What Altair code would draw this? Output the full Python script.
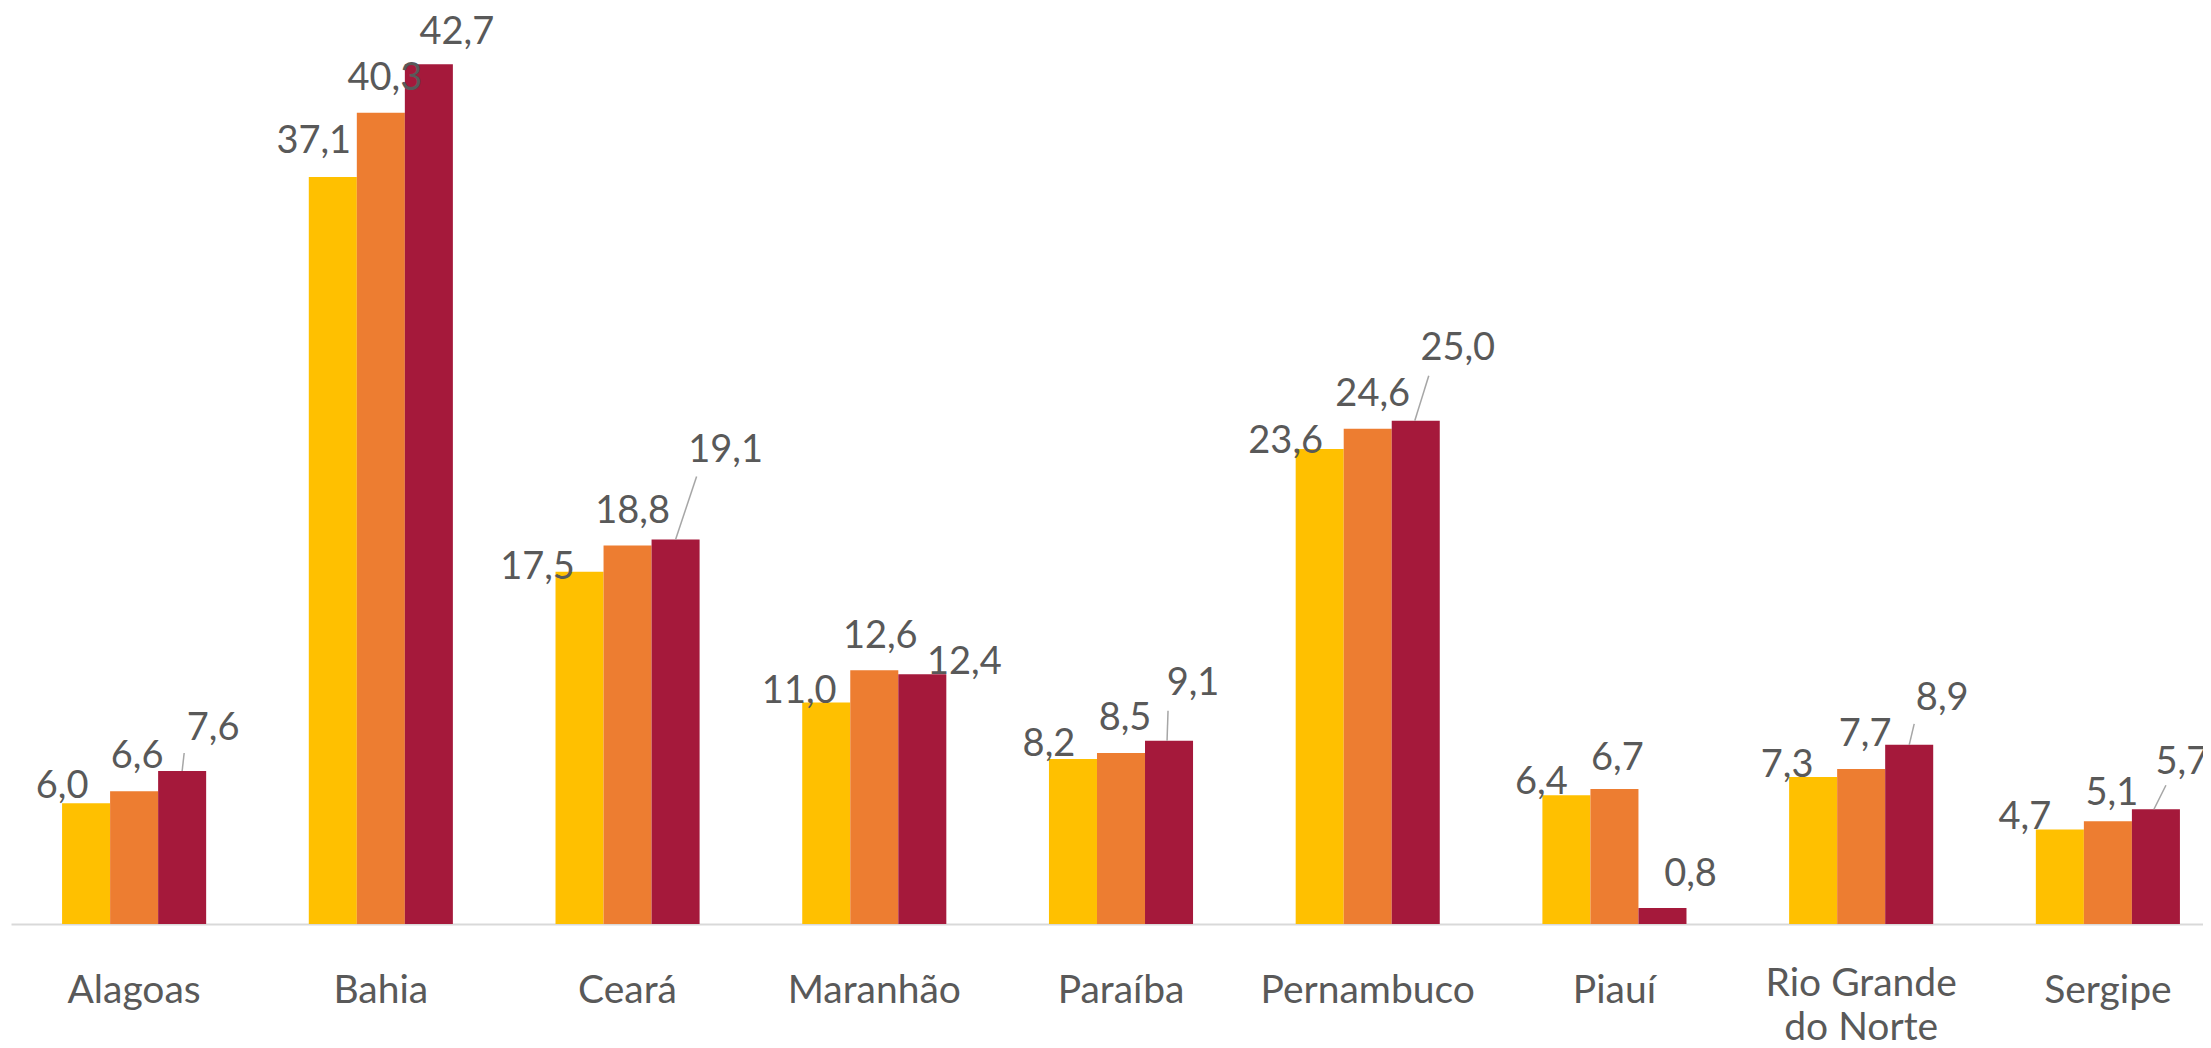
import altair as alt
import pandas as pd

# ---- data ----
states = ["Alagoas", "Bahia", "Ceará", "Maranhão", "Paraíba",
          "Pernambuco", "Piauí", "Rio Grande do Norte", "Sergipe"]
series = ["Série 1", "Série 2", "Série 3"]
serie1 = [6.0, 37.1, 17.5, 11.0, 8.2, 23.6, 6.4, 7.3, 4.7]
serie2 = [6.6, 40.3, 18.8, 12.6, 8.5, 24.6, 6.7, 7.7, 5.1]
serie3 = [7.6, 42.7, 19.1, 12.4, 9.1, 25.0, 0.8, 8.9, 5.7]
colors = ["#FFC000", "#ED7D31", "#A5193B"]

# label nudges (pixels, relative to the default spot above each bar)
nudge_dx = [
    [0, 5, -18, -3, 0, -10, -1, -2, -11],
    [3, 4, 5, 6, 4, 5, 3, 4, 4],
    [7, 4, 26, 18, 0, 18, 4, 9, 2],
]
nudge_dy = [
    [-18, -37, -6, -13, -16, -9, -14, -13, -13],
    [-36, -36, -36, -35, -36, -36, -32, -36, -29],
    [-44, -33, -90, -13, -59, -74, -35, -48, -48],
]
# leader lines of the moved labels of the third series: (state, start dx, start dy, end dx, end dy) in pixels
leaders = [
    ("Alagoas", 0, 0, 2, -18),
    ("Ceará", 0, 0, 21, -63),
    ("Paraíba", -2, 0, -1, -30),
    ("Pernambuco", -1, 0, 13, -45),
    ("Rio Grande do Norte", 0, 0, 5, -21),
    ("Sergipe", -2, 0, 10, -24),
]

W, H = 2195, 916
YMAX = 45.5
PX_PER_UNIT = H / YMAX
BAND = 144.1

values = [serie1, serie2, serie3]
rows = []
for si, sname in enumerate(series):
    for ci, st in enumerate(states):
        v = values[si][ci]
        rows.append({
            "state": st, "series": sname, "value": v,
            "label": f"{v:.1f}".replace(".", ","),
            "ndx": nudge_dx[si][ci], "ndy": nudge_dy[si][ci] + 2,
        })
df = pd.DataFrame(rows)

lrows = []
for i, (st, sdx, sdy, edx, edy) in enumerate(leaders):
    v = serie3[states.index(st)]
    center = BAND * 5 / 6
    lrows.append({"state": st, "lid": i, "ord": 0, "xo": center + sdx, "yv": v - sdy / PX_PER_UNIT})
    lrows.append({"state": st, "lid": i, "ord": 1, "xo": center + edx, "yv": v - edy / PX_PER_UNIT})
ldf = pd.DataFrame(lrows)

FONT = "Lato"
TXT = "#595959"

x_enc = alt.X(
    "state:N", sort=states, title=None,
    scale=alt.Scale(domain=states, range=[3, 2223], paddingInner=0.416, paddingOuter=0.207),
    axis=alt.Axis(
        labelAngle=0, labelFont=FONT, labelFontSize=39, labelColor=TXT, labelLimit=0,
        labelPadding={"condition": {"test": "datum.value == 'Rio Grande do Norte'", "value": 40}, "value": 47},
        labelLineHeight=44, ticks=False, tickSize=0,
        domainColor="#D9D9D9", domainWidth=2, grid=False,
        labelExpr="datum.value == 'Rio Grande do Norte' ? ['Rio Grande', 'do Norte'] : datum.value",
    ),
)
y_enc = alt.Y("value:Q", scale=alt.Scale(domain=[0, YMAX], nice=False, zero=True), axis=None)

bars = alt.Chart(df).mark_bar().encode(
    x=x_enc,
    xOffset=alt.XOffset("series:N", sort=series,
                        scale=alt.Scale(domain=series, paddingInner=0, paddingOuter=0)),
    y=y_enc,
    color=alt.Color("series:N", scale=alt.Scale(domain=series, range=colors), legend=None),
)

labels = alt.Chart(df).mark_text(
    font=FONT, fontSize=38, color=TXT, align="center", baseline="middle",
    dx=alt.expr("datum.ndx"), dy=alt.expr("datum.ndy"),
).encode(
    x=x_enc,
    xOffset=alt.XOffset("series:N", sort=series,
                        scale=alt.Scale(domain=series, paddingInner=0, paddingOuter=0)),
    y=y_enc,
    text="label:N",
)

lead = alt.Chart(ldf).mark_line(color="#A6A6A6", strokeWidth=1.5).encode(
    x=x_enc,
    xOffset=alt.XOffset("xo:Q", scale=alt.Scale(domain=[0, 300], range=[0, 300], nice=False, zero=False)),
    y=alt.Y("yv:Q", scale=alt.Scale(domain=[0, YMAX], nice=False, zero=True), axis=None),
    detail="lid:N",
    order="ord:Q",
)

chart = alt.layer(bars, lead, labels).resolve_scale(xOffset="independent").properties(
    width=W, height=H,
    autosize=alt.AutoSizeParams(type="none"),
    padding={"left": 0, "top": 0, "right": 0, "bottom": 120},
    background="white",
).configure_view(stroke=None)

chart.save("out.html", embed_options={"renderer": "svg", "actions": False})
